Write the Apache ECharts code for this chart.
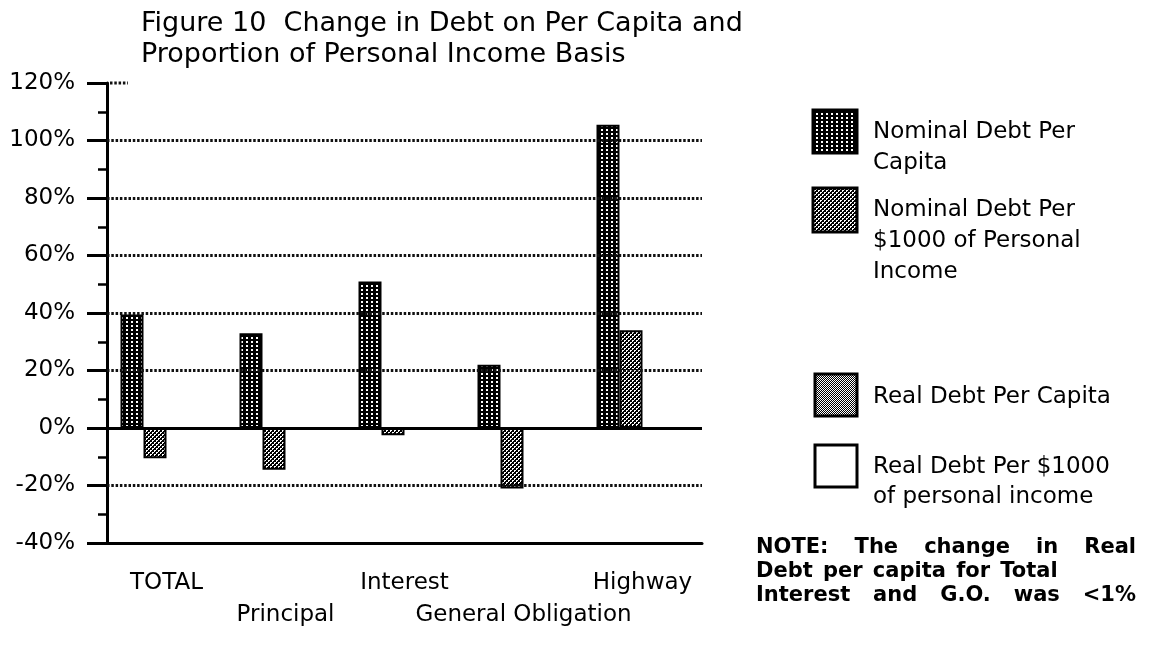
<!DOCTYPE html>
<html>
<head>
<meta charset="utf-8">
<title>Figure 10 Change in Debt</title>
<script src="https://cdn.jsdelivr.net/npm/echarts@6/dist/echarts.min.js"></script>
<style>
  html, body { margin: 0; padding: 0; background: #fff; }
  #chart { width: 1149px; height: 646px; }
</style>
</head>
<body>
<div id="chart"></div>
<script>
  // values, percent change
  const categories = ['TOTAL', 'Principal', 'Interest', 'General Obligation', 'Highway']
  const nominalPerCapita = [39.5, 33, 51, 22, 105.5]
  const nominalPer1000 = [-10.5, -14.5, -2.5, -21, 34]
  const realPerCapita = [null, null, null, null, null]
  const realPer1000 = [null, null, null, null, null]
  const seriesNames = [
    'Nominal Debt Per\nCapita',
    'Nominal Debt Per\n$1000 of Personal\nIncome',
    'Real Debt Per Capita',
    'Real Debt Per $1000\nof personal income'
  ]
  const yMin = -40
  const yMax = 120
  const yStep = 20
  const dottedLevels = [-20, 20, 40, 60, 80, 100]

  const FONT = 'DejaVu Sans'

  // small canvas tiles for the screen-tone fills
  function makePattern(w, h, whitePixels) {
    const c = document.createElement('canvas')
    c.width = w
    c.height = h
    const ctx = c.getContext('2d')
    ctx.fillStyle = '#000'
    ctx.fillRect(0, 0, w, h)
    ctx.fillStyle = '#fff'
    whitePixels.forEach(p => ctx.fillRect(p[0], p[1], p[2] || 1, p[3] || 1))
    return { image: c, repeat: 'repeat' }
  }
  const fills = [
    makePattern(5, 4, [[1, 1, 2, 2]]),
    makePattern(4, 4, [[0, 0, 2, 1], [0, 1], [2, 2, 2, 1], [2, 3]]),
    makePattern(2, 2, [[0, 0], [1, 1]]),
    '#fff'
  ]
  const seriesData = [nominalPerCapita, nominalPer1000, realPerCapita, realPer1000]

  let chart = echarts.init(document.getElementById('chart'))

  // legend drawn by hand so the swatches sit where the figure has them
  const legendSpots = [
    { box: [813, 110, 44, 43], lines: [132, 163] },
    { box: [813, 188, 44, 44], lines: [210, 241, 272] },
    { box: [815, 374, 42, 42], lines: [397] },
    { box: [815, 445, 42, 42], lines: [467, 497] }
  ]
  let graphics = []
  legendSpots.forEach((spot, i) => {
    graphics.push({
      type: 'rect',
      shape: { x: spot.box[0], y: spot.box[1], width: spot.box[2], height: spot.box[3] },
      style: { fill: fills[i], stroke: '#000', lineWidth: 3 }
    })
    seriesNames[i].split('\n').forEach((line, k) => {
      graphics.push({
        type: 'text',
        x: 873,
        y: spot.lines[k],
        style: { text: line, font: '23px "' + FONT + '"', fill: '#000', textAlign: 'left', textVerticalAlign: 'middle' }
      })
    })
  })

  // the note is justified, so spread the words across the line
  const noteLines = [
    { words: ['NOTE:', 'The', 'change', 'in', 'Real'], y: 548, justify: true },
    { words: ['Debt', 'per', 'capita', 'for', 'Total'], y: 572, justify: false },
    { words: ['Interest', 'and', 'G.O.', 'was', '<1%'], y: 596, justify: true }
  ]
  const noteFont = 'bold 21px "' + FONT + '"'
  const measure = document.createElement('canvas').getContext('2d')
  measure.font = noteFont
  const noteLeft = 756
  const noteRight = 1136
  noteLines.forEach(nl => {
    const widths = nl.words.map(w => measure.measureText(w).width)
    const total = widths.reduce((a, b) => a + b, 0)
    let gap = measure.measureText(' ').width * 1.4
    if (nl.justify) gap = (noteRight - noteLeft - total) / (nl.words.length - 1)
    let x = noteLeft
    nl.words.forEach((w, k) => {
      graphics.push({
        type: 'text',
        x: x,
        y: nl.y,
        style: { text: w, font: noteFont, fill: '#000', textAlign: 'left', textVerticalAlign: 'middle' }
      })
      x += widths[k] + gap
    })
  })

  // stub of dotted line at the top tick
  graphics.push({
    type: 'line',
    shape: { x1: 110, y1: 83, x2: 128, y2: 83 },
    style: { stroke: '#111', lineWidth: 3, lineDash: [2.5, 1.8] }
  })

  let series = seriesNames.map((name, i) => ({
    name: name,
    type: 'bar',
    data: seriesData[i],
    barWidth: 23,
    barGap: '0%',
    z: 3,
    itemStyle: { color: fills[i], borderColor: '#000', borderWidth: 2 }
  }))

  // grid rules: dotted ones plus the solid zero line
  series.push({
    type: 'line',
    data: [],
    silent: true,
    z: 1,
    markLine: {
      silent: true,
      symbol: 'none',
      label: { show: false },
      lineStyle: { color: '#111', type: [2.5, 1.8], width: 3 },
      data: dottedLevels.map(v => ({ yAxis: v })).concat([
        { yAxis: 0, lineStyle: { type: 'solid', width: 3, color: '#000' } }
      ])
    }
  })

  chart.setOption({
    animation: false,
    backgroundColor: '#fff',
    textStyle: { fontFamily: FONT, color: '#000' },
    title: {
      text: 'Figure 10  Change in Debt on Per Capita and\nProportion of Personal Income Basis',
      left: 141,
      top: 8,
      padding: 0,
      textStyle: { fontFamily: FONT, fontSize: 27, fontWeight: 'normal', lineHeight: 31, color: '#000' }
    },
    grid: { left: 107, right: 447, top: 83, bottom: 103, containLabel: false, outerBoundsMode: 'none' },
    xAxis: {
      type: 'category',
      data: categories,
      axisLine: { onZero: false, lineStyle: { color: '#000', width: 3 } },
      axisTick: { length: 20, lineStyle: { color: '#000', width: 3 } },
      axisLabel: {
        interval: 0,
        margin: 24,
        color: '#000',
        fontSize: 23,
        lineHeight: 32,
        formatter: (v, i) => (i % 2 ? '\n' + v : v)
      }
    },
    yAxis: {
      type: 'value',
      min: yMin,
      max: yMax,
      interval: yStep,
      axisLine: { show: true, lineStyle: { color: '#000', width: 3 } },
      axisTick: { show: true, length: 20, lineStyle: { color: '#000', width: 3 } },
      minorTick: { show: true, splitNumber: 2, length: 9, lineStyle: { color: '#000', width: 2.5 } },
      splitLine: { show: false },
      axisLabel: { formatter: '{value}%', margin: 32, color: '#000', fontSize: 23 }
    },
    graphic: graphics,
    series: series
  })
</script>
</body>
</html>
